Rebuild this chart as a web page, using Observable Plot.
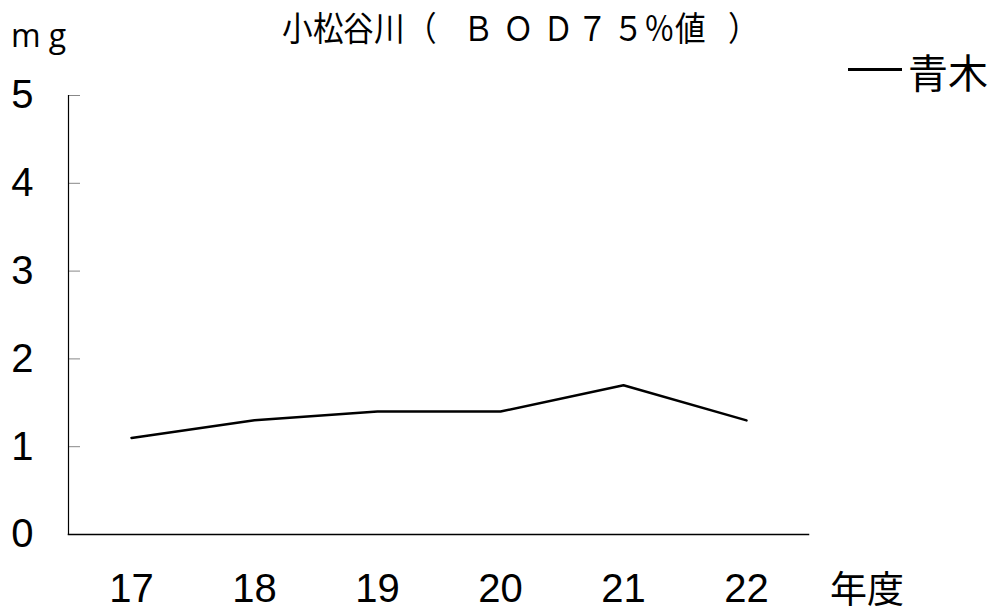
<!DOCTYPE html>
<html>
<head>
<meta charset="utf-8">
<script src="https://cdn.jsdelivr.net/npm/d3@7"></script>
<script src="https://cdn.jsdelivr.net/npm/@observablehq/plot@0.6"></script>
<style>
  html, body { margin: 0; padding: 0; background: #fff; }
  #wrap { position: relative; width: 992px; height: 616px; overflow: hidden; }
  #chart { position: absolute; left: 0; top: 0; }
  .lbl { position: absolute; color: #000; white-space: pre; font-family: "Noto Sans CJK JP", "Noto Sans", sans-serif; line-height: 1; }
  #title { left: 282px; top: 10px; width: 500px; height: 40px; font-size: 34px; }
  #title span { position: absolute; top: 0; transform: scaleX(0.9); transform-origin: 0 0; }
  #unit { left: 11px; top: 19px; font-size: 32px; font-family: "Open Sans", "Noto Sans", sans-serif; }
  #unit span { display: inline-block; }
</style>
</head>
<body>
<div id="wrap">
  <div id="chart"></div>
  <div class="lbl" id="title"></div>
  <div class="lbl" id="unit"></div>
  <div class="lbl" id="legend" style="left:848px; top:51px; font-size:40px; display:flex; align-items:center;"><span style="display:inline-block; width:54px; height:3px; background:#000; margin-right:6px; position:relative; top:-2px;"></span><span id="legendName"></span></div>
  <div class="lbl" id="xunit" style="left:830px; top:569px; font-size:37px;"></div>
</div>
<script>
// Data
const years = ["17", "18", "19", "20", "21", "22"];
const bod = [1.1, 1.3, 1.4, 1.4, 1.7, 1.3];
const yTicks = [0, 1, 2, 3, 4, 5];
const titleChars = ["小", "松", "谷", "川", "（", "Ｂ", "Ｏ", "Ｄ", "７", "５", "％", "値", "）"];
const unitChars = ["m", "g"];
const seriesName = "青木";
const xUnit = "年度";

// layout of the spaced-out title (px from title left)
const titleOffsets = [0, 31, 61, 92, 124, 181, 221, 261, 295, 331, 362, 393, 446];
const titleEl = document.getElementById("title");
titleChars.forEach((c, i) => {
  const s = document.createElement("span");
  s.textContent = c;
  s.style.left = titleOffsets[i] + "px";
  titleEl.appendChild(s);
});
const unitEl = document.getElementById("unit");
unitChars.forEach((c, i) => {
  const s = document.createElement("span");
  s.textContent = c;
  if (i > 0) s.style.marginLeft = "8px";
  unitEl.appendChild(s);
});
document.getElementById("legendName").textContent = seriesName;
document.getElementById("xunit").textContent = xUnit;

const data = years.map((y, i) => ({year: y, value: bod[i]}));

const chart = Plot.plot({
  width: 992,
  height: 616,
  marginLeft: 68,
  marginRight: 184,
  marginTop: 95,
  marginBottom: 82,
  style: {fontFamily: "'Liberation Sans', Arial, sans-serif", fontSize: "40px", color: "#000", background: "#fff"},
  x: {type: "point", domain: years, padding: 0.5, label: null},
  y: {domain: [0, 5], label: null},
  marks: [
    Plot.axisY({ticks: yTicks, tickSize: 0, tickPadding: 35, fontSize: 40, label: null, tickFormat: d => String(d)}),
    Plot.axisY({ticks: yTicks.filter(d => d > 0), tickSize: -12, stroke: "#888", text: null, label: null}),
    Plot.axisX({tickSize: 0, tickPadding: 39, fontSize: 40, label: null}),
    Plot.frame({anchor: "left", stroke: "#000", strokeWidth: 1.2}),
    Plot.frame({anchor: "bottom", stroke: "#000", strokeWidth: 1.5}),
    Plot.line(data, {x: "year", y: "value", stroke: "#000", strokeWidth: 2.5})
  ]
});
document.getElementById("chart").appendChild(chart);
</script>
</body>
</html>
